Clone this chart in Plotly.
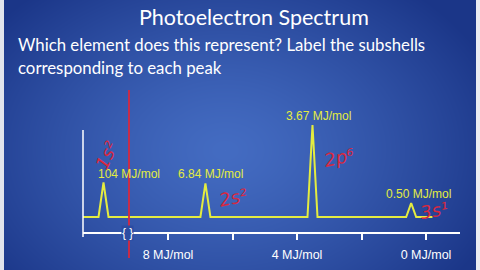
import base64, struct, zlib
import numpy as np
import plotly.graph_objects as go

W, H = 480, 270

# ---- data ----
peak_pos = [10.0, 6.84, 3.52, 0.46]          # position on (broken) MJ/mol axis
peak_height = [2.25, 2.2, 6.0, 0.9]           # relative peak heights
peak_labels = ["104 MJ/mol", "6.84 MJ/mol", "3.67 MJ/mol", "0.50 MJ/mol"]
subshell_notes = ["1s²", "2s²", "2p⁶", "3s¹"]
tick_vals = [8, 6, 4, 2, 0]
tick_text = ["8 MJ/mol", "", "4 MJ/mol", "", "0 MJ/mol"]

# ---- background gradient as an inline PNG ----
yy, xx = np.mgrid[0:H, 0:W].astype(float)
d = np.sqrt(((xx - 225) / 290) ** 2 + ((yy - 150) / 210) ** 2)
t = np.clip(d, 0, 1) ** 1.3
c0 = np.array([68, 108, 194], float)
c1 = np.array([27, 54, 136], float)
img = c0[None, None, :] * (1 - t[..., None]) + c1[None, None, :] * t[..., None]
img[:, 0:4] = [225, 228, 236]
img[:, 476:] = [235, 237, 242]
img = img.clip(0, 255).astype(np.uint8)
raw = b"".join(b"\x00" + img[r].tobytes() for r in range(H))
def chunk(tag, data):
    return struct.pack(">I", len(data)) + tag + data + struct.pack(">I", zlib.crc32(tag + data) & 0xffffffff)
png = (b"\x89PNG\r\n\x1a\n" + chunk(b"IHDR", struct.pack(">IIBBBBB", W, H, 8, 2, 0, 0, 0))
       + chunk(b"IDAT", zlib.compress(raw, 9)) + chunk(b"IEND", b""))
bg_src = "data:image/png;base64," + base64.b64encode(png).decode()

def px(x):
    return x / W
def py(y):
    return 1 - y / H

YEL = "#e4ec40"
RED = "#d8283f"

# ---- build spectrum line (baseline with triangular peaks) ----
x_start, x_end = 10.636, -0.2
hw = 0.155
xs, ys = [x_start], [0]
for p, h in sorted(zip(peak_pos, peak_height), key=lambda a: -a[0]):
    xs += [p + hw, p, p - hw]
    ys += [0, h, 0]
xs.append(x_end); ys.append(0)

fig = go.Figure()
fig.add_trace(go.Scatter(x=xs, y=ys, mode="lines", line=dict(color=YEL, width=2),
                         hoverinfo="skip", showlegend=False))

fig.update_layout(
    width=W, height=H, margin=dict(l=0, r=0, t=0, b=0),
    paper_bgcolor="#1f3b8a", plot_bgcolor="rgba(0,0,0,0)",
    showlegend=False,
    xaxis=dict(domain=[px(83), px(460)], range=[10.636, -1.054], showgrid=False, zeroline=False,
               showline=True, linecolor="white", linewidth=1.5,
               ticks="outside", ticklen=6, tickwidth=1.5, tickcolor="white",
               tickvals=tick_vals, ticktext=tick_text, ticklabelstandoff=4,
               tickfont=dict(family="Liberation Sans, Arial", size=12.5, color="white")),
    yaxis=dict(domain=[py(232), py(100)], range=[-0.978, 7.632], visible=False),
    images=[dict(source=bg_src, xref="paper", yref="paper", x=0, y=1, sizex=1, sizey=1,
                 sizing="stretch", layer="below", xanchor="left", yanchor="top")],
)

# y axis line
fig.add_shape(type="line", xref="paper", yref="paper", x0=px(83), x1=px(83), y0=py(237), y1=py(130),
              line=dict(color="white", width=1.5))

annos = []
annos.append(dict(text="Photoelectron Spectrum", xref="paper", yref="paper", x=px(254), y=py(17),
                  xanchor="center", yanchor="middle", showarrow=False,
                  font=dict(family="Lato", size=21.5, color="white")))
annos.append(dict(text="Which element does this represent? Label the subshells", xref="paper", yref="paper",
                  x=px(16), y=py(45), xanchor="left", yanchor="middle", showarrow=False,
                  font=dict(family="Lato", size=16.8, color="white")))
annos.append(dict(text="corresponding to each peak", xref="paper", yref="paper",
                  x=px(16), y=py(68), xanchor="left", yanchor="middle", showarrow=False,
                  font=dict(family="Lato", size=16.8, color="white")))

label_shift = [25, 5, 6, 7]
for p, h, lab, s in zip(peak_pos, peak_height, peak_labels, label_shift):
    annos.append(dict(text=lab, x=p, y=h, xref="x", yref="y", xanchor="center", yanchor="bottom",
                      xshift=s, yshift=0, showarrow=False,
                      font=dict(family="Liberation Sans, Arial", size=12, color=YEL)))

# axis break
annos.append(dict(text="{ }", xref="paper", yref="paper", x=px(127), y=py(233), xanchor="center",
                  yanchor="middle", showarrow=False, bgcolor="#2c4ca2", borderpad=0,
                  font=dict(family="Liberation Sans, Arial", size=12, color="white")))

# handwritten red subshell notes
note_pos = [(106, 155, -65), (233, 197, -12), (339, 157, -12), (434, 210, -10)]
for txt, (nx, ny, ang) in zip(subshell_notes, note_pos):
    annos.append(dict(text="<i>" + txt + "</i>", xref="paper", yref="paper", x=px(nx), y=py(ny),
                      xanchor="center", yanchor="middle", showarrow=False, textangle=ang,
                      font=dict(family="DejaVu Sans", size=18, color=RED)))
fig.update_layout(annotations=annos)

# red vertical line
fig.add_shape(type="line", xref="paper", yref="paper", x0=px(129), x1=px(129), y0=py(258), y1=py(90),
              line=dict(color=RED, width=1.8))

fig.write_html("out.html")
